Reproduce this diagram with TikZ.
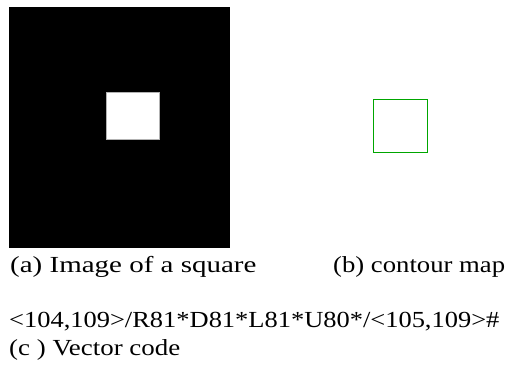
\documentclass[tikz,border=0pt]{standalone}
\usepackage{fontspec}
\setmainfont{Liberation Serif}
\usetikzlibrary{positioning}

\begin{document}
\begin{tikzpicture}[
  x=1pt, y=-1pt,
  caption/.style={anchor=base west, inner sep=0pt, font=\fontsize{23}{27}\selectfont},
  field/.style={fill=black, draw=none},
  blob/.style={fill=white, draw=gray!60, line width=0.6pt},
  outline/.style={draw=green!65!black, line width=1.3pt}
]
  \useasboundingbox (0,0) rectangle (506,369);

  % (a) binary image
  \path[field] (9,7) rectangle (230,248);
  \node[blob, minimum width=53pt, minimum height=47pt, inner sep=0pt, anchor=north west] (sq) at (106,92) {};

  % (b) contour
  \node[outline, minimum width=54pt, minimum height=53pt, inner sep=0pt, anchor=north west] (ctr) at (373,99) {};

  % captions
  \node[caption] (capa) at (10,272) {\scalebox{1.26}[1]{(a) Image of a square}};
  \node[caption] (capb) at (333,272) {\scalebox{1.16}[1]{(b) contour map}};
  \node[caption] (code) at (9,327) {\scalebox{1.15}[1]{<104,109>/R81*D81*L81*U80*/<105,109>\#}};
  \node[caption] (capc) at (9,355) {\scalebox{1.17}[1]{(c ) Vector code}};
\end{tikzpicture}
\end{document}
